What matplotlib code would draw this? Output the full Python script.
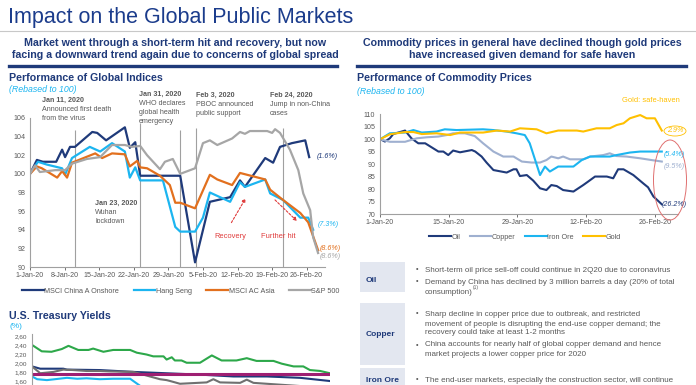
import matplotlib
matplotlib.use("Agg")
import matplotlib.pyplot as plt
from matplotlib.patches import Ellipse, Rectangle, FancyArrowPatch

W, H = 696, 385
plt.rcParams['font.family'] = ['Liberation Sans', 'DejaVu Sans']

NAVY = '#1F3A7A'
TITLE = '#1B3C8C'
LBLUE = '#1CB5F0'
ORANGE = '#E2701E'
GRAY = '#A6A6A6'
COPPER = '#9FB0D0'
GOLD = '#FFC000'
GREEN = '#2DA84A'
MAGENTA = '#9E1F72'
DGRAY = '#707070'
TXT = '#595959'
RED = '#E03C3C'

# ---- Performance of Global Indices (days since 1-Jan-20, rebased to 100)
china_a_days = [0, 1.4, 2.6, 5.3, 6.5, 7.1, 8.1, 9.1, 12.6, 13.6, 15.4, 19.2, 20.2, 21.3, 22.3,
                30.4, 33.4, 36.4, 40.5, 42.5, 43.5, 47.6, 49.2, 50.6, 53.0, 55.7, 56.5]
china_a_vals = [100.0, 101.5, 101.3, 101.3, 102.6, 101.8, 102.9, 102.9, 104.5, 104.4, 103.6, 105.0, 102.8,
                103.4, 99.8, 99.8, 90.5, 97.0, 97.5, 99.3, 98.6, 101.7, 101.2, 102.9, 103.3, 103.6, 101.8]
hang_seng_days = [0, 1.6, 3.4, 6.5, 7.1, 8.5, 12.1, 14.2, 16.6, 19.2, 20.2, 21.3, 22.3, 26.9, 29.4, 30.4,
                  33.4, 35.0, 36.4, 40.5, 42.5, 43.5, 47.6, 48.6, 51.2, 54.7, 56.3, 57.3]
hang_seng_vals = [100, 101.3, 101.0, 100.6, 99.9, 101.7, 102.9, 102.4, 103.3, 102.4, 99.6, 100.7, 99.3, 99.3,
                  94.3, 93.8, 93.8, 95.3, 98.0, 97.0, 99.1, 98.6, 99.4, 97.9, 97.2, 95.3, 95.3, 94.0]
ac_asia_days = [0, 1.4, 2.4, 5.5, 6.5, 7.5, 8.5, 13.2, 14.6, 16.6, 19.2, 20.2, 21.7, 22.3, 23.7, 26.3,
                28.3, 29.4, 30.4, 33.4, 34.4, 36.4, 37.9, 40.9, 42.5, 47.6, 48.6, 51.2, 54.7, 56.3, 58.3]
ac_asia_vals = [100, 100.8, 100.6, 99.6, 100.3, 99.6, 101.2, 102.2, 101.7, 102.2, 102.1, 100.8, 101.4, 100.7,
                100.6, 99.8, 98.8, 96.9, 96.9, 96.3, 97.5, 99.9, 99.4, 98.8, 100.1, 99.4, 98.3, 97.2, 95.8,
                94.8, 91.8]
sp500_days = [0, 1.0, 2.0, 5.1, 7.1, 8.5, 11.5, 14.2, 16.6, 19.2, 20.6, 22.3, 23.7, 26.3, 27.3, 28.9, 30.4,
              33.4, 35.0, 36.4, 37.9, 40.9, 42.5, 43.5, 44.5, 48.0, 49.0, 49.6, 50.6, 52.6, 54.3, 55.3,
              56.7, 57.3, 58.3]
sp500_vals = [100, 100.9, 100.2, 100.4, 100.4, 101.1, 101.6, 101.8, 103.1, 103.1, 102.9, 103.0, 102.0, 100.5,
              101.3, 101.6, 100.0, 100.6, 103.3, 103.6, 103.1, 103.8, 104.5, 104.3, 104.6, 104.6, 104.4,
              104.8, 104.4, 102.6, 100.4, 97.9, 96.1, 93.2, 91.5]
index_names = ['MSCI China A Onshore', 'Hang Seng', 'MSCI AC Asia', 'S&P 500']
index_end_labels = ['(1.6%)', '(7.3%)', '(8.6%)', '(8.6%)']
week_ticks = [0, 7, 14, 21, 28, 35, 42, 49, 56]
week_labels = ['1-Jan-20', '8-Jan-20', '15-Jan-20', '22-Jan-20', '29-Jan-20', '5-Feb-20',
               '12-Feb-20', '19-Feb-20', '26-Feb-20']
event_days = [9.1, 22.2, 30.4, 33.6, 51.2]
event_tops = [104.7, 105.5, 104.7, 104.9, 104.9]

# ---- Performance of Commodity Prices
oil_days = [0, 1.0, 2.0, 2.7, 5.1, 6.4, 7.8, 9.2, 11.9, 12.9, 13.9, 14.9, 16.3, 18.7, 19.4, 20.7, 21.7,
            23.1, 25.8, 27.2, 27.8, 28.5, 29.9, 31.2, 32.6, 33.9, 34.9, 36.0, 37.3, 39.4, 41.4, 42.4,
            43.8, 46.2, 47.5, 48.5, 49.6, 51.6, 53.6, 54.6, 55.7, 57.4]
oil_vals = [100.1, 99.1, 100.4, 102.1, 103.5, 100.4, 98.4, 98.4, 95.1, 95.1, 93.7, 95.5, 94.8, 95.7, 95.1,
            93.1, 90.7, 87.7, 86.7, 88.0, 88.0, 85.3, 85.7, 83.5, 80.4, 79.7, 81.7, 81.3, 79.7, 79.1,
            81.7, 83.1, 85.1, 85.1, 84.4, 88.0, 88.0, 85.7, 82.4, 80.8, 77.1, 74.0]
copper_days = [0, 2.0, 5.1, 7.5, 9.5, 11.9, 13.6, 14.9, 17.3, 19.3, 21.0, 23.1, 25.1, 27.2, 28.9, 30.9,
               32.6, 33.9, 34.9, 36.3, 37.3, 38.7, 41.4, 42.8, 45.5, 46.8, 48.2, 50.2, 53.0, 55.3, 57.4]
copper_vals = [100, 99.0, 99.0, 100.4, 100.8, 101.1, 101.7, 102.4, 102.4, 101.3, 98.4, 95.1, 93.1, 93.1,
               91.1, 90.7, 90.7, 91.7, 93.1, 92.4, 93.1, 92.0, 92.0, 93.1, 93.7, 94.4, 93.3, 93.1, 92.4,
               91.7, 91.1]
iron_days = [0, 2.0, 5.1, 6.8, 8.5, 11.5, 13.2, 15.6, 21.0, 23.1, 25.8, 27.8, 29.5, 30.5, 32.6, 33.6,
             34.6, 36.3, 39.4, 41.1, 42.8, 46.8, 48.2, 50.9, 53.0, 57.4]
iron_vals = [100, 102.4, 102.7, 103.7, 102.7, 103.1, 104.0, 103.7, 104.0, 103.7, 103.1, 102.4, 101.7, 98.4,
             85.7, 89.1, 87.1, 89.1, 89.1, 91.7, 93.1, 93.1, 93.7, 94.7, 95.1, 95.1]
gold_days = [0, 2.0, 5.1, 6.8, 8.5, 11.5, 14.3, 16.3, 18.3, 21.0, 23.8, 26.5, 28.5, 31.9, 33.9, 36.3,
             40.1, 41.4, 44.1, 46.8, 48.2, 49.6, 50.9, 53.0, 54.3, 56.0, 57.4]
gold_vals = [100, 102.0, 102.9, 102.9, 102.1, 102.4, 101.7, 102.7, 102.7, 102.7, 103.5, 103.1, 104.4, 104.0,
             102.4, 103.5, 103.5, 103.1, 104.4, 104.4, 105.7, 106.4, 108.4, 109.7, 108.4, 108.4, 103.5]
commodity_names = ['Oil', 'Copper', 'Iron Ore', 'Gold']
commodity_end_labels = ['(26.2%)', '(9.5%)', '(5.4%)', '2.9%']
fortnight_ticks = [0, 14, 28, 42, 56]
fortnight_labels = ['1-Jan-20', '15-Jan-20', '29-Jan-20', '12-Feb-20', '26-Feb-20']

# ---- U.S. Treasury Yields (%)
ust_green_days = [0, 1.9, 3.8, 5.8, 7.1, 9.0, 11.0, 11.9, 13.9, 15.8, 19.1, 20.4, 22.3, 23.6, 25.6, 26.2,
                  27.2, 27.8, 29.1, 30.1, 32.7, 33.7, 35.0, 36.9, 39.8, 41.8, 43.7, 47.0, 48.6, 50.9,
                  52.8, 54.1, 56.1, 58.0]
ust_green_vals = [2.40, 2.26, 2.25, 2.31, 2.38, 2.29, 2.29, 2.32, 2.25, 2.29, 2.29, 2.23, 2.19, 2.15, 2.15,
                  2.08, 2.13, 2.06, 2.06, 2.01, 2.01, 2.08, 2.17, 2.06, 2.06, 2.11, 2.05, 2.05, 1.99, 1.93,
                  1.93, 1.85, 1.83, 1.78]
ust_navy_days = [0, 1.6, 6.1, 6.8, 13.2, 19.7, 26.2, 32.7, 39.2, 45.7, 52.2, 58.0]
ust_navy_vals = [1.93, 1.88, 1.88, 1.86, 1.85, 1.81, 1.78, 1.75, 1.71, 1.71, 1.68, 1.61]
ust_gray_days = [0, 1.6, 4.2, 6.1, 8.0, 10.6, 13.2, 15.2, 19.7, 22.3, 24.9, 26.2, 26.9, 28.8, 34.0, 35.3,
                 36.6, 40.5, 41.8, 43.1, 52.2, 58.0]
ust_gray_vals = [1.93, 1.78, 1.81, 1.86, 1.85, 1.83, 1.83, 1.82, 1.81, 1.73, 1.65, 1.63, 1.61, 1.55, 1.58,
                 1.65, 1.58, 1.57, 1.64, 1.57, 1.50, 1.45]
ust_lblue_days = [0, 1.0, 2.9, 6.8, 8.8, 10.6, 13.2, 15.8, 19.1, 21.1]
ust_lblue_vals = [1.71, 1.65, 1.63, 1.68, 1.66, 1.67, 1.65, 1.66, 1.66, 1.50]
ust_flat_days = [0, 58.0]
ust_flat_vals = [1.76, 1.76]
ust_ticks = [1.60, 1.80, 2.00, 2.20, 2.40, 2.60]


def rect(x0, y0, x1, y1):
    return [x0 / W, 1 - y1 / H, (x1 - x0) / W, (y1 - y0) / H]


def style_axes(ax):
    for s in ['top', 'right']:
        ax.spines[s].set_visible(False)
    for s in ['left', 'bottom']:
        ax.spines[s].set_color('#A0A0A0')
        ax.spines[s].set_linewidth(0.8)
    ax.tick_params(labelsize=5.1, colors=TXT, length=2, width=0.6)
    ax.tick_params(axis='y', length=0)


fig = plt.figure(figsize=(W / 100, H / 100), dpi=100)

# overlay for slide text, drawn on top
bg = fig.add_axes([0, 0, 1, 1])
bg.set_xlim(0, W)
bg.set_ylim(H, 0)
bg.axis('off')
bg.set_zorder(5)

bg.text(8, 17, 'Impact on the Global Public Markets', fontsize=15.5, color=TITLE, va='center')
bg.plot([0, W], [31, 31], color='#C8C8C8', lw=0.8)

bg.text(175, 43, 'Market went through a short-term hit and recovery, but now',
        ha='center', va='center', fontsize=7.7, fontweight='bold', color=NAVY)
bg.text(175, 55, 'facing a downward trend again due to concerns of global spread',
        ha='center', va='center', fontsize=7.7, fontweight='bold', color=NAVY)
bg.plot([9, 337], [66, 66], color=NAVY, lw=2.4)
bg.text(522, 43, 'Commodity prices in general have declined though gold prices',
        ha='center', va='center', fontsize=7.7, fontweight='bold', color=NAVY)
bg.text(522, 55, 'have increased given demand for safe haven',
        ha='center', va='center', fontsize=7.7, fontweight='bold', color=NAVY)
bg.plot([357, 686], [66, 66], color=NAVY, lw=2.4)

bg.text(9, 78, 'Performance of Global Indices', fontsize=7.7, fontweight='bold', color=NAVY, va='center')
bg.text(9, 90, '(Rebased to 100)', fontsize=6.3, style='italic', color=LBLUE, va='center')
bg.text(357, 78, 'Performance of Commodity Prices', fontsize=7.7, fontweight='bold', color=NAVY, va='center')
bg.text(357, 91, '(Rebased to 100)', fontsize=6.3, style='italic', color=LBLUE, va='center')
bg.text(9, 316, 'U.S. Treasury Yields', fontsize=7.7, fontweight='bold', color=NAVY, va='center')
bg.text(9, 327, '(%)', fontsize=6, color=LBLUE, va='center')

# event notes on the indices chart
notes = [(42, 100, 'Jan 11, 2020', ['Announced first death', 'from the virus']),
         (139, 94, 'Jan 31, 2020', ['WHO declares', 'global health', 'emergency']),
         (196, 95, 'Feb 3, 2020', ['PBOC announced', 'public support']),
         (270, 95, 'Feb 24, 2020', ['Jump in non-China', 'cases']),
         (95, 203, 'Jan 23, 2020', ['Wuhan', 'lockdown'])]
for x, y, head, lines in notes:
    bg.text(x, y, head, fontsize=5.1, fontweight='bold', color=TXT, va='center')
    for i, ln in enumerate(lines):
        bg.text(x, y + 9.3 * (i + 1), ln, fontsize=5.1, color=TXT, va='center')

bg.text(230, 236, 'Recovery', fontsize=5.4, color=RED, ha='center', va='center')
bg.text(278, 236, 'Further hit', fontsize=5.4, color=RED, ha='center', va='center')
bg.add_patch(FancyArrowPatch((230, 225), (247, 196), arrowstyle='-|>', mutation_scale=5,
                             color=RED, lw=0.8, linestyle=(0, (2, 1.5))))
bg.add_patch(FancyArrowPatch((273, 198), (299, 223), arrowstyle='-|>', mutation_scale=5,
                             color=RED, lw=0.8, linestyle=(0, (2, 1.5))))

# ---- indices chart
ax1 = fig.add_axes(rect(30, 118, 325, 267))
series1 = [(china_a_days, china_a_vals, NAVY), (hang_seng_days, hang_seng_vals, LBLUE),
           (ac_asia_days, ac_asia_vals, ORANGE), (sp500_days, sp500_vals, GRAY)]
for (d, v, c), name in zip(series1, index_names):
    ax1.plot(d, v, color=c, lw=1.6, label=name)
ax1.vlines(event_days, 90, event_tops, color='#A0A0A0', lw=0.8, zorder=0)
ax1.set_xlim(0, 59.7)
ax1.set_ylim(90, 106)
ax1.set_yticks(range(90, 107, 2))
ax1.set_xticks(week_ticks)
ax1.set_xticklabels(week_labels)
style_axes(ax1)
ax1.tick_params(axis='x', pad=1.5)
ax1.legend(loc='center left', bbox_to_anchor=(19 / W, 1 - 291 / H), bbox_transform=fig.transFigure,
           ncol=4, frameon=False, fontsize=5.2, handlelength=3.0, handletextpad=0.1,
           columnspacing=2.0, borderaxespad=0, labelcolor=TXT)
end_pos1 = [(317, 156), (318, 224), (320, 248), (320, 257)]
for (x, y), lab, (_, _, c) in zip(end_pos1, index_end_labels, series1):
    bg.text(x, y, lab, fontsize=5.1, style='italic', color=c, va='center')

# ---- commodity chart
ax2 = fig.add_axes(rect(380, 114.3, 678, 214.3))
series2 = [(oil_days, oil_vals, NAVY), (copper_days, copper_vals, COPPER),
           (iron_days, iron_vals, LBLUE), (gold_days, gold_vals, GOLD)]
for (d, v, c), name in zip(series2, commodity_names):
    ax2.plot(d, v, color=c, lw=1.5, label=name)
ax2.set_xlim(0, 60.7)
ax2.set_ylim(70, 110)
ax2.set_yticks(range(70, 111, 5))
ax2.set_xticks(fortnight_ticks)
ax2.set_xticklabels(fortnight_labels)
style_axes(ax2)
ax2.tick_params(axis='x', pad=1.5)
ax2.legend(loc='center left', bbox_to_anchor=(426 / W, 1 - 237 / H), bbox_transform=fig.transFigure,
           ncol=4, frameon=False, fontsize=5.2, handlelength=3.0, handletextpad=0.1,
           columnspacing=1.3, borderaxespad=0, labelcolor=TXT)
end_pos2 = [(674, 205), (674, 167), (674, 154), (675, 131)]
for (x, y), lab, (_, _, c) in zip(end_pos2, commodity_end_labels, series2):
    bg.text(x, y, lab, fontsize=5.1, style='italic', color=c, va='center', ha='center')
bg.add_patch(Ellipse((675, 131), 22, 10, fill=False, ec=GOLD, lw=0.6))
bg.add_patch(Ellipse((670, 180), 33, 80, fill=False, ec='#E07070', lw=0.7))
bg.text(622, 101, 'Gold: safe-haven', fontsize=5.4, color=GOLD, va='center')

# ---- treasury chart (runs off the bottom of the slide)
ax3 = fig.add_axes(rect(32, 333.5, 330, 392))
for d, v, c, lw in [(ust_green_days, ust_green_vals, GREEN, 1.5),
                    (ust_navy_days, ust_navy_vals, NAVY, 1.5),
                    (ust_gray_days, ust_gray_vals, DGRAY, 1.5),
                    (ust_lblue_days, ust_lblue_vals, LBLUE, 1.5),
                    (ust_flat_days, ust_flat_vals, MAGENTA, 2.2)]:
    ax3.plot(d, v, color=c, lw=lw)
ax3.set_xlim(0, 58)
ax3.set_ylim(1.37, 2.65)
ax3.set_yticks(ust_ticks)
ax3.set_yticklabels([f'{t:.2f}'.replace('.', ',') for t in ust_ticks])
ax3.set_xticks([])
style_axes(ax3)
ax3.tick_params(axis='y', labelsize=4.6)

# ---- commentary table
rows = [('Oil', 262, 292, 280,
         [(270, True, 'Short-term oil price sell-off could continue in 2Q20 due to coronavirus'),
          (282, True, 'Demand by China has declined by 3 million barrels a day (20% of total'),
          (292, False, 'consumption)')]),
        ('Copper', 303, 365, 334,
         [(314, True, 'Sharp decline in copper price due to outbreak, and restricted'),
          (324, False, 'movement of people is disrupting the end-use copper demand; the'),
          (333, False, 'recovery could take at least 1-2 months'),
          (345, True, 'China accounts for nearly half of global copper demand and hence'),
          (354, False, 'market projects a lower copper price for 2020')]),
        ('Iron Ore', 368, 400, 380,
         [(380, True, 'The end-user markets, especially the construction sector, will continue')])]
for label, y0, y1, ly, lines in rows:
    bg.add_patch(Rectangle((360, y0), 45, y1 - y0, fc='#E3E7F0', ec='none'))
    bg.text(366, ly, label, fontsize=6, fontweight='bold', color=NAVY, va='center')
    for y, bullet, s in lines:
        if bullet:
            bg.text(416, y, '•', fontsize=5.4, color=TXT, va='center')
        t = bg.text(425, y, s, fontsize=5.8, color=TXT, va='center')
        if s == 'consumption)':
            bg.annotate('(1)', xy=(1, 0.75), xycoords=t, fontsize=3.5, color=TXT, va='bottom')

fig.savefig('out.png', dpi=100)
